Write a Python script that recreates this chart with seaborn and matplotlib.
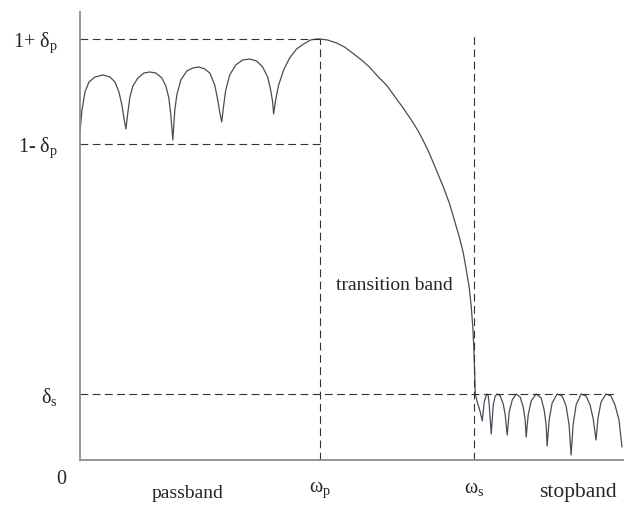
import numpy as np
import pandas as pd
import matplotlib
matplotlib.use("Agg")
import matplotlib.pyplot as plt
import seaborn as sns

# ---- data (arbitrary schematic units) ----
pass_omega = [0, 2, 5, 9, 15, 23, 30, 35, 39, 42, 44, 46,
              48, 50, 53, 58, 64, 70, 76, 82, 86, 89, 91, 93,
              95, 97, 101, 107, 113, 119, 125, 130, 135, 138, 140, 142,
              144, 146, 150, 156, 163, 170, 177, 183, 188, 191, 193, 194,
              196, 199, 204, 210, 217, 224, 231, 237, 240]
pass_mag = [328, 350, 368, 378, 383, 385, 383, 378, 368, 355, 342, 331,
            348, 363, 374, 382, 387, 388, 387, 382, 374, 362, 345, 320,
            350, 365, 380, 389, 392, 393, 391, 387, 375, 360, 348, 338,
            355, 370, 385, 395, 400, 401, 399, 393, 383, 370, 358, 346,
            360, 375, 390, 402, 411, 416, 420, 421, 421]

trans_omega = [248, 257, 265, 273, 282, 290, 298, 307, 315, 323, 332, 340,
               349, 357, 364, 370, 375, 380, 384, 387, 390, 392, 393.5, 394.5, 395.5, 396]
trans_mag = [420, 417, 413, 407, 400, 393, 384, 375, 364, 353, 340, 327,
             309, 290, 273, 257, 240, 223, 207, 190, 172, 153, 133, 113, 85, 66]

stop_omega = [398, 401, 403, 405, 407, 408, 409, 410, 412,
              414, 416, 418, 421, 424, 426, 428,
              430, 433, 437, 441, 444, 446, 447,
              449, 452, 457, 462, 465, 467, 468,
              470, 473, 478, 483, 487, 490, 492,
              494, 497, 502, 507, 511, 514, 517,
              519, 522, 527, 532, 536, 540, 543]
stop_mag = [58, 48, 39, 58, 65, 66, 64, 55, 26,
            55, 64, 66, 64, 56, 45, 25,
            48, 60, 66, 63, 53, 40, 23,
            45, 59, 66, 62, 50, 35, 14,
            40, 57, 66, 64, 54, 35, 5,
            35, 55, 66, 64, 55, 42, 20,
            42, 58, 66, 64, 55, 40, 13]

# levels and band edges
level_values = [66, 316, 421]
level_labels = ["δ$_\\mathrm{s}$", "1- δ$_\\mathrm{p}$", "1+ δ$_\\mathrm{p}$"]
edge_values = [240, 395]
edge_labels = ["ω$_\\mathrm{p}$", "ω$_\\mathrm{s}$"]
delta_s, one_minus, one_plus = level_values
omega_p, omega_s = edge_values
omega_max, mag_max = 544, 448
omega_s_top = 426
band_labels = ["passband", "transition band", "stopband"]

df = pd.DataFrame({
    "omega": pass_omega + trans_omega + stop_omega,
    "mag": pass_mag + trans_mag + stop_mag,
})

# ---- style ----
sns.set_style("white")
plt.rcParams["font.family"] = ["Liberation Serif", "DejaVu Serif"]
plt.rcParams["mathtext.fontset"] = "custom"
plt.rcParams["mathtext.rm"] = "Liberation Serif"
plt.rcParams["mathtext.it"] = "Liberation Serif:italic"

fig = plt.figure(figsize=(6.29, 5.08), dpi=100)
ax = fig.add_axes([80 / 629, 48 / 508, 543 / 629, 448 / 508])

sns.lineplot(data=df, x="omega", y="mag", sort=False, estimator=None,
             color="#4b4b5a", linewidth=0.9, ax=ax)

dash = dict(color="#333333", linewidth=0.8, linestyle=(0, (7, 4)))
ax.plot([0, omega_p], [one_plus, one_plus], **dash)
ax.plot([0, omega_p], [one_minus, one_minus], **dash)
ax.plot([0, 535], [delta_s, delta_s], **dash)
ax.plot([omega_p, omega_p], [0, one_plus], **dash)
ax.plot([omega_s, omega_s], [0, omega_s_top], **dash)

ax.set_xlim(0, omega_max)
ax.set_ylim(0, mag_max)
ax.set_xlabel("")
ax.set_ylabel("")

ax.set_yticks(level_values)
ax.set_yticklabels(level_labels, fontsize=14.5)
ax.set_xticks(edge_values)
ax.set_xticklabels(edge_labels, fontsize=14.5)
ax.tick_params(axis="y", length=0, pad=16)
ax.tick_params(axis="x", length=0, pad=14)
for lbl in ax.get_xticklabels():
    if "s" in lbl.get_text():
        lbl.set_x(lbl.get_position()[0])

for s in ["top", "right"]:
    ax.spines[s].set_visible(False)
for s in ["left", "bottom"]:
    ax.spines[s].set_color("#8c8c8c")
    ax.spines[s].set_linewidth(1.3)

ax.text(-19, -19, "0", fontsize=14.5, ha="center", va="center", clip_on=False)
ax.text(108, -33, band_labels[0], fontsize=14, ha="center", va="center", clip_on=False)
ax.text(315, 175, band_labels[1], fontsize=14, ha="center", va="center")
ax.text(499, -32, band_labels[2], fontsize=15.5, ha="center", va="center", clip_on=False)

fig.savefig("out.png", dpi=100)
